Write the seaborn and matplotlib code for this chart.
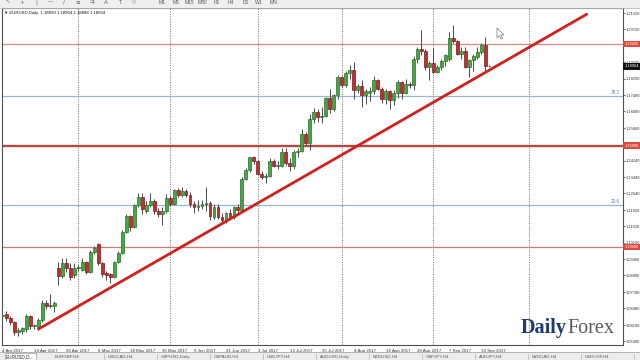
import matplotlib
matplotlib.use("Agg")
import matplotlib.pyplot as plt
import seaborn as sns
import pandas as pd
from matplotlib.patches import Rectangle, Polygon
from matplotlib.lines import Line2D

sns.set_style("white")
plt.rcParams['font.family'] = ['Liberation Sans', 'DejaVu Sans']

# ---------------- data ----------------
opens = [
    1.0658, 1.0670, 1.0651, 1.0631, 1.0583, 1.0586, 1.0598, 1.0661, 1.0612, 1.0606,
    1.0640, 1.0725, 1.0708, 1.0711, 1.0897, 1.0855, 1.0921, 1.0897, 1.0862, 1.0897,
    1.0887, 1.0926, 1.0877, 1.0976, 1.1015, 1.0921, 1.0872, 1.0865, 1.0853, 1.0926,
    1.0971, 1.1074, 1.1153, 1.1100, 1.1207, 1.1245, 1.1180, 1.1205, 1.1225, 1.1180,
    1.1163, 1.1180, 1.1244, 1.1214, 1.1280, 1.1255, 1.1275, 1.1255, 1.1211, 1.1195,
    1.1200, 1.1212, 1.1217, 1.1150, 1.1196, 1.1150, 1.1133, 1.1166, 1.1150, 1.1195,
    1.1182, 1.1335, 1.1380, 1.1443, 1.1426, 1.1362, 1.1346, 1.1350, 1.1423, 1.1400,
    1.1400, 1.1467, 1.1414, 1.1398, 1.1470, 1.1475, 1.1557, 1.1514, 1.1633, 1.1665,
    1.1642, 1.1648, 1.1735, 1.1679, 1.1750, 1.1840, 1.1800, 1.1859, 1.1870, 1.1773,
    1.1793, 1.1751, 1.1760, 1.1770, 1.1822, 1.1780, 1.1730, 1.1767, 1.1722, 1.1760,
    1.1814, 1.1760, 1.1802, 1.1797, 1.1924, 1.1978, 1.1968, 1.1886, 1.1905, 1.1860,
    1.1888, 1.1918, 1.1925, 1.2030, 1.2015, 1.1950, 1.1966, 1.1888, 1.1920, 1.1935,
    1.1960, 1.1997, 1.18899]
highs = [
    1.0676, 1.0685, 1.0661, 1.0636, 1.0601, 1.0606, 1.0670, 1.0666, 1.0622, 1.0651,
    1.0737, 1.0739, 1.0770, 1.0734, 1.0926, 1.0946, 1.0946, 1.0921, 1.0921, 1.0911,
    1.0946, 1.0931, 1.0985, 1.1005, 1.1020, 1.0926, 1.0882, 1.0872, 1.0931, 1.0980,
    1.1084, 1.1165, 1.1160, 1.1212, 1.1264, 1.1268, 1.1227, 1.1268, 1.1235, 1.1190,
    1.1195, 1.1260, 1.1250, 1.1285, 1.1290, 1.1295, 1.1285, 1.1270, 1.1225, 1.1230,
    1.1230, 1.1296, 1.1225, 1.1210, 1.1212, 1.1170, 1.1175, 1.1185, 1.1200, 1.1210,
    1.1345, 1.1390, 1.1445, 1.1448, 1.1430, 1.1375, 1.1365, 1.1440, 1.1435, 1.1425,
    1.1490, 1.1490, 1.1440, 1.1480, 1.1490, 1.1583, 1.1565, 1.1655, 1.1683, 1.1680,
    1.1690, 1.1740, 1.1777, 1.1755, 1.1846, 1.1845, 1.1868, 1.1895, 1.1910, 1.1805,
    1.1823, 1.1780, 1.1790, 1.1845, 1.1830, 1.1790, 1.1780, 1.1775, 1.1775, 1.1825,
    1.1820, 1.1830, 1.1815, 1.1940, 1.1985, 1.2070, 1.1975, 1.1915, 1.1980, 1.1895,
    1.1925, 1.1950, 1.2060, 1.2092, 1.2020, 1.1985, 1.1985, 1.1925, 1.1950, 1.1985,
    1.2005, 1.2034, 1.18964]
lows = [
    1.0633, 1.0636, 1.0616, 1.0567, 1.0564, 1.0572, 1.0581, 1.0596, 1.0597, 1.0591,
    1.0631, 1.0695, 1.0700, 1.0680, 1.0813, 1.0848, 1.0877, 1.0838, 1.0848, 1.0884,
    1.0882, 1.0867, 1.0872, 1.0966, 1.0911, 1.0853, 1.0838, 1.0823, 1.0848, 1.0921,
    1.0966, 1.1069, 1.1080, 1.1095, 1.1197, 1.1165, 1.1167, 1.1195, 1.1165, 1.1150,
    1.1110, 1.1170, 1.1200, 1.1205, 1.1245, 1.1245, 1.1245, 1.1195, 1.1170, 1.1180,
    1.1185, 1.1180, 1.1131, 1.1140, 1.1140, 1.1120, 1.1120, 1.1140, 1.1140, 1.1170,
    1.1175, 1.1330, 1.1370, 1.1410, 1.1355, 1.1335, 1.1315, 1.1345, 1.1395, 1.1385,
    1.1395, 1.1405, 1.1375, 1.1385, 1.1445, 1.1470, 1.1505, 1.1480, 1.1610, 1.1615,
    1.1610, 1.1640, 1.1660, 1.1670, 1.1730, 1.1790, 1.1790, 1.1830, 1.1730, 1.1760,
    1.1690, 1.1705, 1.1720, 1.1755, 1.1775, 1.1710, 1.1705, 1.1680, 1.1700, 1.1735,
    1.1730, 1.1755, 1.1785, 1.1775, 1.1905, 1.1945, 1.1870, 1.1823, 1.1855, 1.1855,
    1.1870, 1.1890, 1.1915, 1.2005, 1.1945, 1.1925, 1.1880, 1.1838, 1.1865, 1.1925,
    1.1950, 1.1862, 1.18888]
closes = [
    1.0664, 1.0651, 1.0631, 1.0583, 1.0589, 1.0600, 1.0661, 1.0610, 1.0616, 1.0640,
    1.0725, 1.0708, 1.0713, 1.0725, 1.0855, 1.0921, 1.0897, 1.0853, 1.0897, 1.0902,
    1.0926, 1.0877, 1.0976, 1.0995, 1.0921, 1.0867, 1.0860, 1.0851, 1.0926, 1.0971,
    1.1074, 1.1153, 1.1100, 1.1207, 1.1245, 1.1185, 1.1205, 1.1225, 1.1180, 1.1163,
    1.1180, 1.1244, 1.1214, 1.1280, 1.1255, 1.1275, 1.1255, 1.1211, 1.1195, 1.1200,
    1.1214, 1.1217, 1.1152, 1.1196, 1.1150, 1.1133, 1.1166, 1.1150, 1.1195, 1.1182,
    1.1335, 1.1380, 1.1443, 1.1426, 1.1362, 1.1346, 1.1350, 1.1423, 1.1400, 1.1405,
    1.1467, 1.1414, 1.1398, 1.1470, 1.1475, 1.1557, 1.1514, 1.1633, 1.1665, 1.1642,
    1.1648, 1.1735, 1.1679, 1.1750, 1.1840, 1.1800, 1.1859, 1.1870, 1.1773, 1.1793,
    1.1751, 1.1768, 1.1770, 1.1822, 1.1780, 1.1730, 1.1767, 1.1722, 1.1760, 1.1814,
    1.1760, 1.1802, 1.1797, 1.1924, 1.1978, 1.1968, 1.1886, 1.1905, 1.1860, 1.1888,
    1.1918, 1.1945, 1.2028, 1.2015, 1.1950, 1.1966, 1.1888, 1.1920, 1.1943, 1.1960,
    1.1997, 1.1894, 1.18904]

date_positions = [0, 8, 16, 24, 32, 40, 48, 56, 64, 72, 80, 88, 96, 104, 112, 120]
date_labels = ["4 Apr 2017", "14 Apr 2017", "26 Apr 2017", "8 May 2017", "18 May 2017",
               "30 May 2017", "9 Jun 2017", "21 Jun 2017", "3 Jul 2017", "13 Jul 2017",
               "25 Jul 2017", "4 Aug 2017", "16 Aug 2017", "28 Aug 2017", "7 Sep 2017",
               "19 Sep 2017"]
price_ticks = [1.21520, 1.20720, 1.19910, 1.19100, 1.18290, 1.17480, 1.16680, 1.15860,
               1.15050, 1.14240, 1.13440, 1.12640, 1.11820, 1.11020, 1.10220, 1.09400,
               1.08600, 1.07780, 1.06980, 1.06160, 1.05360]
hidden_ticks = [1.19910, 1.15050]   # covered by the level boxes in the reference
level_prices = [1.20000, 1.15000, 1.10000]
fib_prices = [1.1744, 1.1207]
fib_labels = ["38.2", "23.6"]
month_separators = [19, 42, 64, 85, 108, 132]
trend_x = [9.0, 146.4]
trend_y = [1.0596, 1.2147]
last_price = 1.18904
header = "\u25BC EURUSD,Daily  1.18899 1.18964 1.18888 1.18904"
timeframes = ["M1", "M5", "M15", "M30", "H1", "H4", "D1", "W1", "MN"]
tabs = ["EURGBP,H4", "USDCAD,H4", "GBPUSD,Daily", "GBPAUD,H4", "USDJPY,H4",
        "AUDUSD,Daily", "NZDUSD,H4", "GBPJPY,H4", "AUDJPY,H4", "NZDCAD,H4", "USDCHF,H4"]

df = pd.DataFrame({"idx": range(len(opens)), "open": opens, "high": highs,
                   "low": lows, "close": closes})
df["up"] = df["close"] >= df["open"]

# ---------------- figure ----------------
W, H = 640, 360
fig = plt.figure(figsize=(6.4, 3.6), dpi=100, facecolor="white")
ax = fig.add_axes([2 / W, 15 / H, 621 / W, 337 / H])
ax.set_facecolor("white")
ax.set_xlim(-0.125, 155.5)
ax.set_ylim(1.05175, 1.21776)

# month separators
for m in month_separators:
    ax.axvline(m, color="#6a6a6a", lw=0.7, ls=(0, (1, 1.5)), zorder=1)

# horizontal levels
ax.axhline(level_prices[0], color="#d58a82", lw=0.9, zorder=1)
ax.axhline(level_prices[1], color="#b24a40", lw=1.7, zorder=1)
ax.axhline(level_prices[2], color="#d07a70", lw=0.9, zorder=1)
for p, t in zip(fib_prices, fib_labels):
    ax.axhline(p, color="#98b6d2", lw=0.9, zorder=1)
    ax.text(154.8, p + 0.0004, t, fontsize=3.3, color="#5a7fa8", ha="right", va="bottom")

# candles
green_f, green_e = "#45a845", "#2b6e2b"
red_f, red_e = "#bf3030", "#7a1a1a"
ax.vlines(df["idx"], df["low"], df["high"], color="#4a4a4a", lw=0.7, zorder=2)
body_bottom = df[["open", "close"]].min(axis=1)
body_h = (df["close"] - df["open"]).abs()
ax.bar(df["idx"], body_h, bottom=body_bottom, width=0.72,
       color=[green_f if u else red_f for u in df["up"]],
       edgecolor=[green_e if u else red_e for u in df["up"]],
       linewidth=0.5, zorder=3)

# trend line
sns.lineplot(x=trend_x, y=trend_y, ax=ax, color="#d02020", lw=2.0, zorder=4)

# axes styling
for s in ax.spines.values():
    s.set_color("#505050")
    s.set_linewidth(0.8)
ax.yaxis.tick_right()
ax.set_yticks(price_ticks)
ax.set_yticklabels(["" if p in hidden_ticks else f"{p:.5f}" for p in price_ticks])
ax.tick_params(axis="y", labelsize=2.9, length=1.5, pad=0.8, colors="#333333", width=0.5)
ax.set_xticks(date_positions)
ax.set_xticklabels(date_labels)
ax.tick_params(axis="x", labelsize=3.2, length=2, pad=1.2, colors="#333333", width=0.5)
for lbl in ax.get_xticklabels():
    lbl.set_ha("left")
ax.set_xlabel("")
ax.set_ylabel("")
ax.grid(False)

# price boxes
ytr = ax.get_yaxis_transform()
for p in level_prices:
    ax.text(1.0025, p, f"{p:.5f}", transform=ytr, fontsize=2.9, color="white",
            ha="left", va="center", clip_on=False, zorder=6,
            bbox=dict(boxstyle="square,pad=0.3", fc="#e2473d", ec="none"))
ax.text(1.0025, last_price, f"{last_price:.5f}", transform=ytr, fontsize=2.9, color="white",
        ha="left", va="center", clip_on=False, zorder=6,
        bbox=dict(boxstyle="square,pad=0.3", fc="#111111", ec="none"))

# header text
fig.text(4 / W, 1 - 13 / H, header, fontsize=3.1, color="#111111", ha="left", va="center")

# toolbar at top
fig.patches.append(Rectangle((0, 1 - 8 / H), 1, 8 / H, transform=fig.transFigure,
                             fc="#efefef", ec="none", zorder=0))
fig.add_artist(Line2D([0, 1], [1 - 8 / H, 1 - 8 / H], transform=fig.transFigure,
                      color="#b8b8b8", lw=0.6))
tf_x = [162, 176, 189, 203, 217, 231, 246, 259, 273]
for x, t in zip(tf_x, timeframes):
    fig.text(x / W, 1 - 2 / H, t, fontsize=3.6, color="#555555", ha="center", va="center")
icons = ["\u2196", "+", "|", "\u2014", "/", "\u2261", "\u21C9", "A", "T", "\u25C7"]
for k, t in enumerate(icons):
    fig.text((8 + k * 14) / W, 1 - 2 / H, t, fontsize=4, color="#666666", ha="center",
             va="center", family="DejaVu Sans")

# bottom tab strip
fig.patches.append(Rectangle((0, 0), 1, 8 / H, transform=fig.transFigure,
                             fc="#ececec", ec="none", zorder=0))
fig.add_artist(Line2D([0, 1], [8 / H, 8 / H], transform=fig.transFigure,
                      color="#a8a8a8", lw=0.6))
fig.text(6 / W, 3 / H, "EURUSD,D...", fontsize=3.4, color="#222222", ha="left", va="center",
         bbox=dict(boxstyle="square,pad=0.3", fc="white", ec="#888888", lw=0.4))
x0 = 55
for t in tabs:
    fig.text(x0 / W, 3 / H, t, fontsize=3.2, color="#555555", ha="left", va="center")
    x0 += 53
    fig.add_artist(Line2D([(x0 - 4) / W, (x0 - 4) / W], [1 / H, 6 / H],
                          transform=fig.transFigure, color="#999999", lw=0.4))

# DailyForex logo
fig.text(567 / W, 1 - 333 / H, "Daily", fontsize=14.5, fontweight="bold",
         family="Liberation Serif", color="#1f3b6b", ha="right", va="baseline")
fig.text(567 / W, 1 - 333 / H, "Forex", fontsize=14.5,
         family="Liberation Serif", color="#5a5a5a", ha="left", va="baseline")

# mouse cursor
tip = (497, 28)
cur = [(0, 0), (0, 10), (2.5, 7.5), (4, 11), (5.5, 10.4), (4, 7), (7, 7)]
fig.add_artist(Polygon([((tip[0] + a) / W, 1 - (tip[1] + b) / H) for a, b in cur],
                       closed=True, transform=fig.transFigure, fc="white",
                       ec="#777777", lw=0.5))

fig.savefig("out.png", dpi=100, facecolor="white")
